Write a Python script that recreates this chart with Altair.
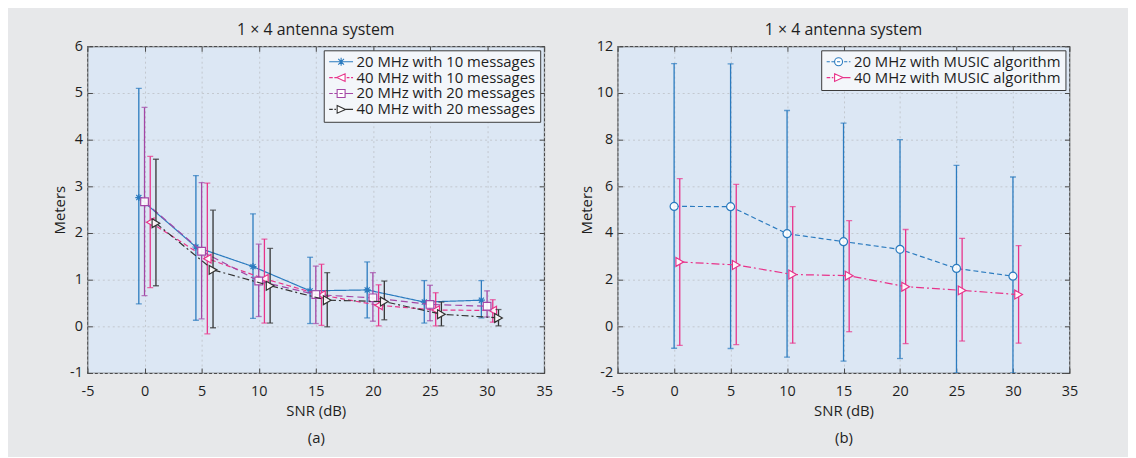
import altair as alt
import pandas as pd

# ---------------- Panel (a) data ----------------
series_a = ["20 MHz with 10 messages", "40 MHz with 10 messages",
            "20 MHz with 20 messages", "40 MHz with 20 messages"]

x_a_20_10 = [-0.5, 4.5, 9.5, 14.5, 19.5, 24.5, 29.5]
y_a_20_10 = [2.76, 1.70, 1.28, 0.76, 0.78, 0.52, 0.56]
hi_a_20_10 = [5.10, 3.23, 2.41, 1.48, 1.38, 0.98, 0.98]
lo_a_20_10 = [0.48, 0.13, 0.17, 0.06, 0.18, 0.07, 0.18]

x_a_40_10 = [0.5, 5.5, 10.5, 15.5, 20.5, 25.5, 30.5]
y_a_40_10 = [2.23, 1.45, 1.02, 0.67, 0.45, 0.35, 0.34]
hi_a_40_10 = [3.64, 3.07, 1.87, 1.33, 0.89, 0.72, 0.57]
lo_a_40_10 = [0.83, -0.16, 0.07, 0.02, 0.01, 0.01, 0.09]

x_a_20_20 = [0, 5, 10, 15, 20, 25, 30]
y_a_20_20 = [2.67, 1.61, 0.97, 0.68, 0.61, 0.47, 0.43]
hi_a_20_20 = [4.69, 3.08, 1.76, 1.29, 1.15, 0.88, 0.76]
lo_a_20_20 = [0.66, 0.16, 0.21, 0.06, 0.11, 0.12, 0.20]

x_a_40_20 = [1, 6, 11, 16, 21, 26, 31]
y_a_40_20 = [2.21, 1.21, 0.87, 0.56, 0.53, 0.26, 0.18]
hi_a_40_20 = [3.58, 2.49, 1.67, 1.15, 0.97, 0.52, 0.36]
lo_a_40_20 = [0.87, -0.03, 0.07, -0.01, 0.14, 0.01, 0.01]

# ---------------- Panel (b) data ----------------
series_b = ["20 MHz with MUSIC algorithm", "40 MHz with MUSIC algorithm"]

x_b_20 = [0, 5, 10, 15, 20, 25, 30]
y_b_20 = [5.14, 5.13, 3.97, 3.63, 3.30, 2.48, 2.15]
hi_b_20 = [11.26, 11.25, 9.25, 8.71, 8.00, 6.90, 6.40]
lo_b_20 = [-0.94, -0.95, -1.32, -1.49, -1.38, -2.0, -2.0]

x_b_40 = [0.5, 5.5, 10.5, 15.5, 20.5, 25.5, 30.5]
y_b_40 = [2.76, 2.63, 2.22, 2.17, 1.70, 1.54, 1.36]
hi_b_40 = [6.33, 6.08, 5.13, 4.53, 4.15, 3.77, 3.46]
lo_b_40 = [-0.82, -0.78, -0.72, -0.23, -0.74, -0.63, -0.72]

x_ticks = [-5, 0, 5, 10, 15, 20, 25, 30, 35]
y_ticks_a = [-1, 0, 1, 2, 3, 4, 5, 6]
y_ticks_b = [-2, 0, 2, 4, 6, 8, 10, 12]

# ---------------- styles ----------------
FONT = "Open Sans"
TXT = "#1e1e1e"
BLUE, PINK, PURPLE, BLACK = "#2b7bbf", "#e8338a", "#a347a6", "#333333"

ASTERISK = "M-1,0H1M0,-1V1M-0.72,-0.72L0.72,0.72M-0.72,0.72L0.72,-0.72"

# legend symbols: line segment + marker (marker spans -1..1)
LEG_A = [
    "M-3,0H3M0,-1V1M-0.72,-0.72L0.72,0.72M-0.72,0.72L0.72,-0.72",
    "M-3,0H-2.1M-1.7,0H-1.1M-1.1,0L1,-0.95L1,0.95ZM1.4,0H2.1M2.5,0H3",
    "M-3,0H-2.1M-1.7,0H-1M-1,-1H1V1H-1ZM-0.4,0H0.4M1,0H3",
    "M-3,0H-2.1M-1.7,0H-1.3M-1,-0.95L1.1,0L-1,0.95ZM1.1,0H3",
]
LEG_B = [
    "M-3,0H-2.2M-1.8,0H-1M-1,0A1,1 0 1,0 1,0A1,1 0 1,0 -1,0ZM-0.4,0H0.4M1.4,0H2.2M2.6,0H3",
    "M-3,0H-2.1M-1.7,0H-1.3M-1,-0.95L1.1,0L-1,0.95ZM1.1,0H3",
]

LABEL_EXPR = "'' + datum.value"


def make_df(name, xs, ys, his, los):
    return pd.DataFrame({"series": name, "x": xs, "y": ys, "hi": his, "lo": los})


def main_x_axis(title):
    return alt.Axis(values=x_ticks, grid=True, gridColor="#c3c8cf", gridDash=[2, 3],
                    gridWidth=1, ticks=False, domain=False, labelFontSize=14.5,
                    labelPadding=12, labelColor=TXT, labelFont=FONT, title=title,
                    titleFont=FONT, titleFontSize=15, titleFontWeight="normal",
                    titleColor=TXT, titlePadding=5, titleLineHeight=28,
                    labelFlush=False, labelExpr=LABEL_EXPR)


def main_y_axis(vals):
    return alt.Axis(values=vals, grid=True, gridColor="#c3c8cf", gridDash=[2, 3],
                    gridWidth=1, ticks=False, domain=False, labelFontSize=14.5,
                    labelPadding=5, labelColor=TXT, labelFont=FONT, title="Meters",
                    titleFont=FONT, titleFontSize=15, titleFontWeight="normal",
                    titleColor=TXT, titlePadding=2, labelFlush=False,
                    labelExpr=LABEL_EXPR)


def tick_axis(vals, orient):
    return alt.Axis(values=vals, orient=orient, offset=-5, tickSize=5, ticks=True,
                    tickColor="#4a4a4a", tickWidth=1, labels=False, domain=False,
                    grid=False, title=None)


def panel(frames, series, colors, dashes, shapes, sizes, leg_paths, ydom, yvals,
          title, xtitle, width):
    xs = alt.Scale(domain=[-5, 35], nice=False, zero=False)
    ys = alt.Scale(domain=ydom, nice=False, zero=False)
    layers = []
    all_df = pd.concat(frames, ignore_index=True)
    leg_props = dict(title=None, orient="top-right", offset=4, padding=4,
                     fillColor="#f3f6fa", strokeColor="#3a3a3a", cornerRadius=0,
                     labelFont=FONT, labelFontSize=15, labelColor=TXT,
                     symbolSize=64, symbolStrokeWidth=1.1, symbolOffset=6,
                     labelOffset=8, rowPadding=0, symbolOpacity=1, labelLimit=400)
    legend_layer = alt.Chart(all_df).mark_point(
        opacity=0, filled=False, fill="white", strokeWidth=1.1
    ).encode(
        x=alt.X("x:Q", scale=xs, axis=main_x_axis(xtitle)),
        y=alt.Y("y:Q", scale=ys, axis=main_y_axis(yvals)),
        color=alt.Color("series:N", scale=alt.Scale(domain=series, range=colors),
                        legend=alt.Legend(**leg_props)),
        shape=alt.Shape("series:N", scale=alt.Scale(domain=series, range=leg_paths),
                        legend=alt.Legend(**leg_props)),
    )
    layers.append(legend_layer)
    for i, df in enumerate(frames):
        c = colors[i]
        base = alt.Chart(df)
        if i == 0:
            ax_lo_x, ax_lo_y = tick_axis(x_ticks, "bottom"), tick_axis(yvals, "left")
            ax_hi_x, ax_hi_y = tick_axis(x_ticks, "top"), tick_axis(yvals, "right")
        else:
            ax_lo_x = ax_lo_y = ax_hi_x = ax_hi_y = None
        rule = base.mark_rule(color=c, strokeWidth=1.3, clip=True).encode(
            x=alt.X("x:Q", scale=xs, axis=ax_lo_x),
            y=alt.Y("lo:Q", scale=ys, axis=ax_lo_y),
            y2="hi:Q")
        cap_lo = base.mark_tick(color=c, orient="horizontal", size=6, thickness=1.3,
                                clip=True).encode(
            x=alt.X("x:Q", scale=xs, axis=ax_hi_x),
            y=alt.Y("lo:Q", scale=ys, axis=ax_hi_y))
        cap_hi = base.mark_tick(color=c, orient="horizontal", size=6, thickness=1.3,
                                clip=True).encode(
            x=alt.X("x:Q", scale=xs, axis=None),
            y=alt.Y("hi:Q", scale=ys, axis=None))
        line = base.mark_line(color=c, strokeWidth=1.2, strokeDash=dashes[i],
                              clip=True).encode(
            x=alt.X("x:Q", scale=xs, axis=None),
            y=alt.Y("y:Q", scale=ys, axis=None))
        pts = base.mark_point(shape=shapes[i], size=sizes[i], filled=False,
                              fill="white", fillOpacity=0.9, stroke=c,
                              strokeWidth=1.2, opacity=1, clip=True).encode(
            x=alt.X("x:Q", scale=xs, axis=None),
            y=alt.Y("y:Q", scale=ys, axis=None))
        layers += [rule, cap_lo, cap_hi, line, pts]
    return alt.layer(*layers).resolve_axis(x="independent", y="independent").properties(
        width=width, height=329,
        title=alt.TitleParams(title, font=FONT, fontSize=16, fontWeight="normal",
                              color=TXT, offset=0))


frames_a = [
    make_df(series_a[0], x_a_20_10, y_a_20_10, hi_a_20_10, lo_a_20_10),
    make_df(series_a[1], x_a_40_10, y_a_40_10, hi_a_40_10, lo_a_40_10),
    make_df(series_a[2], x_a_20_20, y_a_20_20, hi_a_20_20, lo_a_20_20),
    make_df(series_a[3], x_a_40_20, y_a_40_20, hi_a_40_20, lo_a_40_20),
]
frames_b = [
    make_df(series_b[0], x_b_20, y_b_20, hi_b_20, lo_b_20),
    make_df(series_b[1], x_b_40, y_b_40, hi_b_40, lo_b_40),
]

pa = panel(frames_a, series_a, [BLUE, PINK, PURPLE, BLACK],
           [[1, 0], [5, 3], [7, 4], [7, 3, 2, 3]],
           [ASTERISK, "triangle-left", "square", "triangle-right"],
           [50, 75, 60, 80], LEG_A, [-1, 6], y_ticks_a,
           "1 \u00d7 4 antenna system", ["SNR (dB)", "(a)"], 460)
pb = panel(frames_b, series_b, [BLUE, PINK],
           [[5, 3], [8, 3, 2, 3]],
           ["circle", "triangle-right"],
           [65, 80], LEG_B, [-2, 12], y_ticks_b,
           "1 \u00d7 4 antenna system", ["SNR (dB)", "(b)"], 455)

chart = alt.hconcat(pa, pb, spacing=25).resolve_scale(
    color="independent", shape="independent"
).properties(
    background="#e7e8ea",
    padding={"left": 44, "top": 12, "right": 50, "bottom": 8},
).configure_view(fill="#dce7f4", stroke="#4a4a4a", strokeWidth=1.2)

chart.save("out.html", embed_options={"renderer": "svg", "actions": False})
